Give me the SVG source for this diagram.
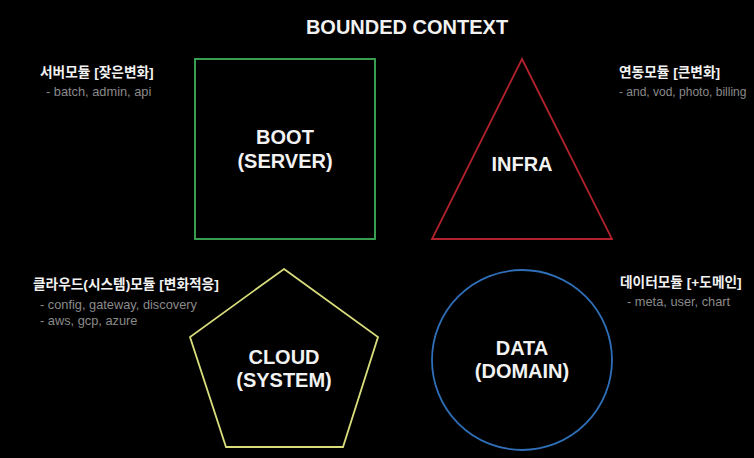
<svg xmlns="http://www.w3.org/2000/svg" width="754" height="458" viewBox="0 0 754 458">
<style>
.t{font-family:"Liberation Sans","Noto Sans CJK KR",sans-serif;font-weight:bold;fill:#f2f2f2}
.big{font-size:20px;text-anchor:middle}
.h{font-size:13.7px}
.s{font-family:"Liberation Sans","Noto Sans CJK KR",sans-serif;font-size:12.8px;fill:#8a8a8a}
.sh{fill:none;stroke-width:1.8}
</style>
<rect width="754" height="458" fill="#000"/>
<text class="t big" x="407" y="34">BOUNDED CONTEXT</text>
<g id="boot">
<rect class="sh" x="195" y="59" width="180" height="180" stroke="#3fae5a"/>
<text class="t big" x="285" y="144">BOOT</text>
<text class="t big" x="285" y="168">(SERVER)</text>
</g>
<g id="infra">
<polygon class="sh" points="522,59 612,239 432,239" stroke="#b3222c"/>
<text class="t big" x="522" y="171">INFRA</text>
</g>
<g id="cloud">
<polygon class="sh" points="284,269 378,337 343,447 226,447 190,337" stroke="#d9dd7c"/>
<text class="t big" x="284" y="364">CLOUD</text>
<text class="t big" x="284" y="387">(SYSTEM)</text>
</g>
<g id="data">
<circle class="sh" cx="522" cy="360" r="90" stroke="#2f6fb8"/>
<text class="t big" x="522" y="355">DATA</text>
<text class="t big" x="522" y="378">(DOMAIN)</text>
</g>
<g id="label-server">
<text class="t h" x="40" y="77">서버모듈 [잦은변화]</text>
<text class="s" x="46" y="96">- batch, admin, api</text>
</g>
<g id="label-infra">
<text class="t h" x="619" y="77">연동모듈 [큰변화]</text>
<text class="s" x="619" y="96" style="font-size:12px">- and, vod, photo, billing</text>
</g>
<g id="label-cloud">
<text class="t h" x="33" y="289">클라우드(시스템)모듈 [변화적응]</text>
<text class="s" x="40" y="309">- config, gateway, discovery</text>
<text class="s" x="40" y="325">- aws, gcp, azure</text>
</g>
<g id="label-data">
<text class="t h" x="620" y="287">데이터모듈 [+도메인]</text>
<text class="s" x="627" y="306">- meta, user, chart</text>
</g>
<g id="connectors"/>
</svg>
